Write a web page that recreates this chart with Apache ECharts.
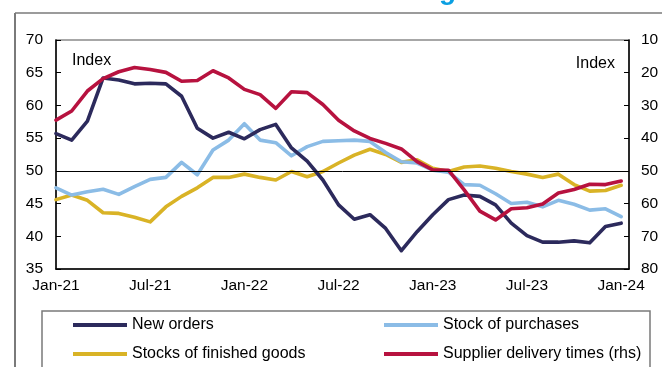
<!DOCTYPE html>
<html>
<head>
<meta charset="utf-8">
<script src="https://cdn.jsdelivr.net/npm/echarts@6/dist/echarts.min.js"></script>
<style>
  html, body { margin: 0; padding: 0; background: #ffffff; }
  #chart { width: 662px; height: 367px; }
</style>
</head>
<body>
<div id="chart"></div>
<script>
// Monthly survey indices, Jan-21 .. Jan-24 (37 months)
const tickLabels = ['Jan-21', 'Jul-21', 'Jan-22', 'Jul-22', 'Jan-23', 'Jul-23', 'Jan-24'];

const newOrders = [55.7, 54.7, 57.6, 64.2, 63.9, 63.3, 63.4, 63.3, 61.4, 56.5, 55.0, 55.9,
  54.9, 56.3, 57.1, 53.5, 51.5, 48.6, 44.8, 42.6, 43.3, 41.2, 37.8, 40.7,
  43.3, 45.6, 46.3, 46.1, 44.8, 42.0, 40.1, 39.1, 39.1, 39.3, 39.0, 41.5, 42.0];

const stockOfPurchases = [47.4, 46.3, 46.8, 47.2, 46.4, 47.6, 48.7, 49.0, 51.3, 49.4, 53.2, 54.7,
  57.2, 54.7, 54.3, 52.3, 53.7, 54.5, 54.6, 54.7, 54.5, 52.8, 51.4, 51.2,
  50.1, 49.8, 47.9, 47.8, 46.5, 45.0, 45.2, 44.5, 45.5, 44.9, 44.0, 44.2, 43.0];

const stocksOfFinishedGoods = [45.6, 46.3, 45.5, 43.6, 43.5, 42.9, 42.2, 44.5, 46.1, 47.4, 49.0, 49.0,
  49.5, 49.0, 48.6, 49.9, 49.1, 49.9, 51.2, 52.4, 53.3, 52.5, 51.3, 51.7,
  50.4, 49.9, 50.6, 50.75, 50.4, 49.9, 49.5, 49.0, 49.5, 47.9, 46.9, 47.0, 47.8];

// right-hand scale, inverted
const supplierDeliveryTimes = [34.5, 31.7, 25.6, 21.8, 19.7, 18.4, 19.0, 19.9, 22.6, 22.4, 19.4, 21.6,
  25.1, 26.7, 30.9, 25.8, 26.1, 29.7, 34.5, 37.8, 40.1, 41.6, 43.3, 47.2,
  49.7, 49.8, 55.8, 62.3, 65.0, 61.6, 61.3, 60.1, 56.8, 55.7, 54.1, 54.2, 53.1];

const FONT = '"Liberation Sans", Arial, Helvetica, sans-serif';
const COLORS = {
  newOrders: '#2c2a5c',
  purchases: '#8bbce6',
  finished: '#d9b326',
  delivery: '#b7123f'
};

const toPoints = arr => arr.map((v, i) => [i, v]);

const chart = echarts.init(document.getElementById('chart'), null, { renderer: 'canvas' });

const lineSeries = (name, data, color, yAxisIndex) => ({
  name,
  type: 'line',
  yAxisIndex,
  data: toPoints(data),
  symbol: 'none',
  z: 3,
  lineStyle: { color, width: 3.6, cap: 'round', join: 'round' },
  itemStyle: { color },
  emphasis: { disabled: true },
  animation: false
});

const legendBase = {
  orient: 'vertical',
  padding: 0,
  itemWidth: 54,
  itemHeight: 4,
  itemGap: 13,
  icon: 'rect',
  selectedMode: false,
  textStyle: { fontFamily: FONT, fontSize: 16, color: '#000' }
};

chart.setOption({
  animation: false,
  backgroundColor: '#ffffff',
  grid: {
    left: 56, right: 33, top: 40, bottom: 98,
    show: true, borderColor: '#8a8a8a', borderWidth: 1.5, backgroundColor: 'transparent'
  },
  xAxis: {
    type: 'value',
    min: 0, max: 36.5, interval: 6,
    axisLine: { show: true, lineStyle: { color: '#000', width: 1.5 } },
    axisTick: { show: false },
    splitLine: { show: false },
    axisLabel: {
      margin: 9,
      fontFamily: FONT, fontSize: 15.5, color: '#000',
      formatter: v => (v % 6 === 0 ? tickLabels[v / 6] : '')
    }
  },
  yAxis: [
    {
      type: 'value', position: 'left',
      min: 35, max: 70, interval: 5,
      axisLine: { show: true, lineStyle: { color: '#000', width: 1.5 } },
      axisTick: { show: true, inside: true, length: 5, lineStyle: { color: '#000' } },
      splitLine: { show: false },
      axisLabel: { margin: 13, fontFamily: FONT, fontSize: 15.5, color: '#000' }
    },
    {
      type: 'value', position: 'right', inverse: true,
      min: 10, max: 80, interval: 10,
      axisLine: { show: true, lineStyle: { color: '#000', width: 1.5 } },
      axisTick: { show: true, inside: true, length: 5, lineStyle: { color: '#000' } },
      splitLine: { show: false },
      axisLabel: { margin: 12, fontFamily: FONT, fontSize: 15.5, color: '#000' }
    }
  ],
  legend: [
    Object.assign({}, legendBase, { left: 73, top: 317, data: ['New orders', 'Stocks of finished goods'] }),
    Object.assign({}, legendBase, { left: 384, top: 317, data: ['Stock of purchases', 'Supplier delivery times (rhs)'] })
  ],
  series: [
    {
      // 50 = no-change line
      name: 'ref50', type: 'line', yAxisIndex: 0, data: [], z: 1, silent: true,
      markLine: {
        silent: true, symbol: 'none', label: { show: false },
        lineStyle: { color: '#000', width: 1, type: 'solid' },
        data: [{ yAxis: 50 }],
        animation: false
      }
    },
    lineSeries('Stocks of finished goods', stocksOfFinishedGoods, COLORS.finished, 0),
    lineSeries('Stock of purchases', stockOfPurchases, COLORS.purchases, 0),
    lineSeries('New orders', newOrders, COLORS.newOrders, 0),
    lineSeries('Supplier delivery times (rhs)', supplierDeliveryTimes, COLORS.delivery, 1)
  ],
  graphic: [
    // chart title (runs off the top edge)
    {
      type: 'text', left: 25, top: -23, silent: true,
      style: { text: 'Chart 3: Selected manufacturing PMI', fill: '#0a9fe2',
        font: 'bold 28px ' + FONT }
    },
    // panel frame
    { type: 'line', silent: true, shape: { x1: 15, y1: 13, x2: 662, y2: 13 },
      style: { stroke: '#7a7a7a', lineWidth: 1.5 } },
    { type: 'line', silent: true, shape: { x1: 15, y1: 13, x2: 15, y2: 367 },
      style: { stroke: '#7a7a7a', lineWidth: 2 } },
    // legend box
    { type: 'rect', silent: true, shape: { x: 42, y: 311, width: 608, height: 70 },
      style: { fill: 'none', stroke: '#7a7a7a', lineWidth: 1.5 } },
    // axis unit labels
    { type: 'text', left: 72, top: 53, silent: true,
      style: { text: 'Index', fill: '#000', font: '16px ' + FONT } },
    { type: 'text', right: 47, top: 56, silent: true,
      style: { text: 'Index', fill: '#000', font: '16px ' + FONT } }
  ]
});
</script>
</body>
</html>
